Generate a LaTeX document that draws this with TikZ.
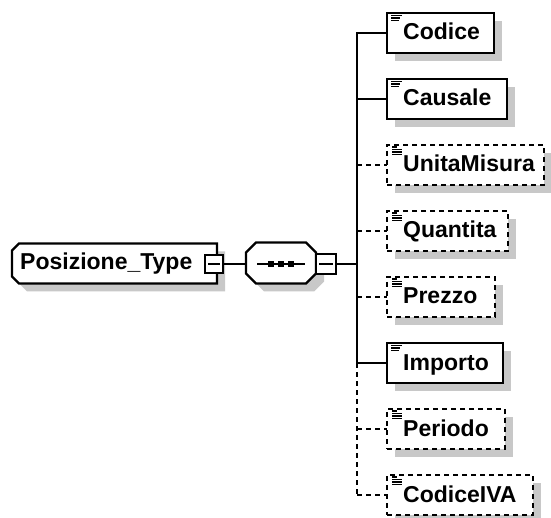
\documentclass[tikz,border=0pt]{standalone}
\usepackage{fontspec}
\setmainfont{Liberation Sans}
\usetikzlibrary{shadows}
\definecolor{shd}{RGB}{200,200,200}
\newcommand\kidreq[4]{% name, cy, width, text
  \node[elem,minimum width=#3 pt] (#1) at (387,#2) {};
  \node[lbl] (#1-t) at ([shift={(16,7)}]#1.west) {#4};
  \draw[icon] ([shift={(4,-17.5)}]#1.west) -- ++(11,0);
  \draw[icon] ([shift={(4,-15)}]#1.west) -- ++(9,0);
  \draw[icon] ([shift={(4,-12.5)}]#1.west) -- ++(8,0);
}
\newcommand\kidopt[4]{% name, cy, width, text
  \node[elem,optl,minimum width=#3 pt] (#1) at (387,#2) {};
  \node[lbl] (#1-t) at ([shift={(16,7)}]#1.west) {#4};
  \draw[icon] ([shift={(5,-18)}]#1.west) -- ++(5,0);
  \draw[icon] ([shift={(5,-15.5)}]#1.west) -- ++(10,0);
  \draw[icon] ([shift={(5,-13)}]#1.west) -- ++(10,0);
  \draw[icon] ([shift={(5,-10.5)}]#1.west) -- ++(10,0);
}
\begin{document}
\begin{tikzpicture}[x=1pt,y=-1pt,
  ln/.style={line width=2.2pt},
  optl/.style={dash pattern=on 5pt off 4pt},
  shdw/.style={drop shadow={shadow xshift=8pt,shadow yshift=-8pt,fill=shd,opacity=1}},
  elem/.style={draw,ln,fill=white,shdw,inner sep=0pt,outer sep=0pt,minimum height=40pt,anchor=west},
  lbl/.style={font=\fontsize{23}{23}\selectfont\bfseries,anchor=base west,inner sep=0pt},
  minusbox/.style={draw,line width=1.6pt,fill=white,inner sep=0pt,outer sep=0pt},
  icon/.style={line width=1.1pt},
  hid/.style={inner sep=0pt,outer sep=0pt,draw=none},
]
\path[fill=white] (0,0) rectangle (551,518);
\useasboundingbox (0,0) rectangle (551,518);

% root complex type
\node[hid,minimum width=205pt,minimum height=40pt] (root) at (114.5,263.5) {};
\draw[ln,fill=white,shdw]
  ([shift={(7,0)}]root.north west) -- (root.north east) -- (root.south east)
  -- ([shift={(7,0)}]root.south west) -- ([shift={(0,-7)}]root.south west)
  -- ([shift={(0,7)}]root.north west) -- cycle;
\node[lbl] (root-t) at (20,270) {Posizione\_Type};
\node[minusbox,minimum size=18pt] (rootminus) at (214,264) {};
\draw[line width=1.6pt] ([shift={(3,0)}]rootminus.west) -- ([shift={(-3,0)}]rootminus.east);

% sequence compositor
\node[hid,minimum width=70pt,minimum height=41pt] (seq) at (281,263) {};
\draw[ln,fill=white,shdw]
  ([shift={(10,0)}]seq.north west) -- ([shift={(-10,0)}]seq.north east)
  -- ([shift={(0,10)}]seq.north east) -- ([shift={(0,-10)}]seq.south east)
  -- ([shift={(-10,0)}]seq.south east) -- ([shift={(10,0)}]seq.south west)
  -- ([shift={(0,-10)}]seq.south west) -- ([shift={(0,10)}]seq.north west) -- cycle;
\draw[line width=1.6pt] ([shift={(11,1)}]seq.west) -- ([shift={(-11,1)}]seq.east);
\foreach \dx in {-10,0,10}
  \fill ([shift={(\dx-3,-2)}]seq.center) rectangle ([shift={(\dx+3,4)}]seq.center);
\node[minusbox,minimum size=20pt] (seqminus) at (326,264) {};
\draw[line width=1.6pt] ([shift={(3,0)}]seqminus.west) -- ([shift={(-3,0)}]seqminus.east);

\draw[ln] (rootminus.east) -- (rootminus.east -| seq.west);
\coordinate (bus) at (357,264);
\draw[ln] (seqminus.east) -- (bus);

% children
\kidreq{codice}{33}{107}{Codice}
\kidreq{causale}{99}{120}{Causale}
\kidopt{unitamisura}{165}{157}{UnitaMisura}
\kidopt{quantita}{231}{121}{Quantita}
\kidopt{prezzo}{297}{108}{Prezzo}
\kidreq{importo}{363}{116}{Importo}
\kidopt{periodo}{429}{118}{Periodo}
\kidopt{codiceiva}{495}{146}{CodiceIVA}

% bus and branches
\draw[ln,line cap=rect] (bus |- codice.west) -- (bus |- importo.west);
\draw[ln,optl] (bus |- importo.west) -- (bus |- codiceiva.west);
\foreach \n in {codice,causale,importo}
  \draw[ln] (bus |- \n.west) -- (\n.west);
\foreach \n in {unitamisura,quantita,prezzo,periodo,codiceiva}
  \draw[ln,optl] (bus |- \n.west) -- (\n.west);
\end{tikzpicture}
\end{document}
